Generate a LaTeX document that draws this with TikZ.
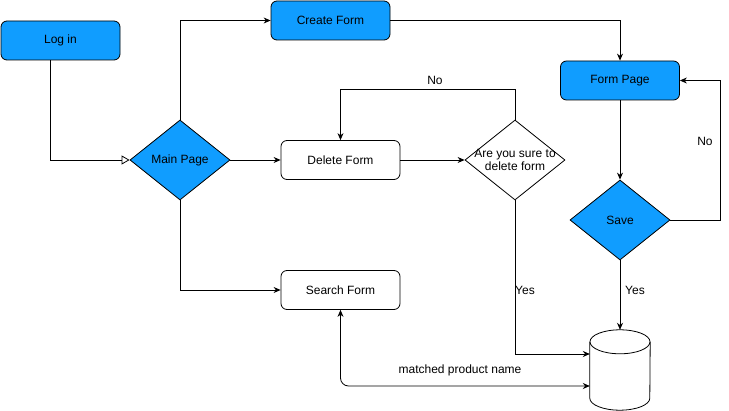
\documentclass[tikz,border=0pt]{standalone}
\usepackage{fontspec}
\setmainfont{Liberation Sans}
\usetikzlibrary{shapes.geometric, arrows.meta}
\definecolor{formblue}{RGB}{16,157,255}
\begin{document}
\begin{tikzpicture}[x = 1pt, y = -1pt, font = \fontsize{12}{14}\selectfont,
        box/.style = {draw, rounded corners = 6pt, minimum width = 119pt, minimum height = 39pt, inner sep = 0pt, line width = 0.8pt},
        bluebox/.style = {box, fill = formblue},
        choice/.style = {draw, diamond, minimum width = 100pt, minimum height = 80pt, inner sep = 0pt, line width = 0.8pt},
        flow/.style = {-{Stealth[length = 7pt, width = 6pt]}, line width = 0.8pt}]
        \useasboundingbox (0, 0) rectangle (729, 411);
        % boxes
        \node [bluebox] (login) at (60.5, 40.5) {Log in};
        \node [bluebox] (create) at (330.5, 20.5) {Create Form};
        \node [bluebox] (formpage) at (620, 80.5) {Form Page};
        \node [box] (delete) at (340.5, 160) {Delete Form};
        \node [box] (search) at (340.5, 290) {Search Form};
        % decisions
        \node [choice, fill = formblue] (main) at (180, 160) {Main Page};
        \node [choice, label = {[align = center, font = \fontsize{12}{13}\selectfont]center:Are you sure to\\delete form}] (ask) at (515, 160) {};
        \node [choice, fill = formblue] (save) at (620, 220) {Save};
        % database
        \node [minimum width = 60pt, minimum height = 80pt, inner sep = 0pt] (db) at (620, 370) {};
        \draw [line width = 0.8pt] ([yshift = -12pt]db.north west) -- ([yshift = 12pt]db.south west)
            arc [start angle = 180, end angle = 360, x radius = 30pt, y radius = 12pt]
            -- ([yshift = -12pt]db.north east);
        \draw [line width = 0.8pt] ([yshift = -12pt]db.north) ellipse [x radius = 30pt, y radius = 12pt];
        % connectors
        \draw [line width = 0.8pt, -{Triangle[open, length = 8pt, width = 9pt]}] ([xshift = -10.5pt]login.south) |- (main.west);
        \draw [flow] (main.north) |- (create.west);
        \draw [flow] (create.east) -| (formpage.north);
        \draw [flow] (main.east) -- (delete.west);
        \draw [flow] (main.south) |- (search.west);
        \draw [flow] (delete.east) -- (ask.west);
        \draw [flow] (ask.north) -- ++(0, -30) -| (delete.north);
        \draw [flow] (ask.south) |- ([yshift = 16pt]db.west);
        \draw [flow] (formpage.south) -- (save.north);
        \draw [flow] (save.east) -- ++(50, 0) |- (formpage.east);
        \draw [flow] (save.south) -- (db.north);
        \draw [line width = 0.8pt, {Stealth[length = 7pt, width = 6pt]}-{Stealth[length = 7pt, width = 6pt]}, rounded corners = 8pt] (search.south) |- ([yshift = -16pt]db.west);
        % labels
        \node (no1) at (435, 80) {No};
        \node (no2) at (705, 141) {No};
        \node [right, inner sep = 0pt] (yes1) at (515, 290) {Yes};
        \node [right, inner sep = 0pt] (yes2) at (625, 290) {Yes};
        \node (matched) at (460, 370) {matched product name};
\end{tikzpicture}
\end{document}
